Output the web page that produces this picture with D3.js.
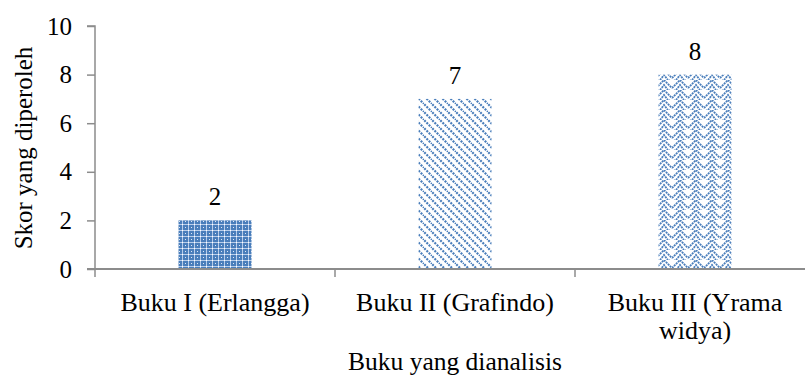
<!DOCTYPE html>
<html>
<head>
<meta charset="utf-8">
<script src="https://cdn.jsdelivr.net/npm/d3@7"></script>
<style>
  html, body { margin: 0; padding: 0; background: #fff; }
  svg { display: block; }
  text { font-family: "Liberation Serif", "Times New Roman", serif; fill: #000; }
</style>
</head>
<body>
<svg id="chart" width="805" height="383"></svg>
<script>
// Scores per analysed textbook
const categories = [["Buku I (Erlangga)"], ["Buku II (Grafindo)"], ["Buku III (Yrama", "widya)"]];
const scores = [2, 7, 8];
const yTicks = [0, 2, 4, 6, 8, 10];
const yTitle = "Skor yang diperoleh";
const xTitle = "Buku yang dianalisis";

const svg = d3.select("#chart");
const plotL = 95, plotR = 815, plotT = 26, plotB = 269;
const axisColor = "#8c8c8c";
const blue = "#4a7ebb";
const fs = 25;

const keys = categories.map((c, i) => i);
const x = d3.scaleBand().domain(keys).range([plotL, plotR]).paddingInner(0.696).paddingOuter(0.348);
const y = d3.scaleLinear().domain([0, 10]).range([plotB, plotT]);

// Hatch fills for the three bars
const defs = svg.append("defs");

const p1 = defs.append("pattern").attr("id", "pat0").attr("patternUnits", "userSpaceOnUse")
  .attr("width", 6).attr("height", 6);
p1.append("rect").attr("width", 6).attr("height", 6).attr("fill", blue);
p1.append("rect").attr("x", 0).attr("y", 2).attr("width", 6).attr("height", 1).attr("fill", "#b8cdea");
p1.append("rect").attr("x", 2).attr("y", 0).attr("width", 1).attr("height", 6).attr("fill", "#b8cdea");
p1.append("rect").attr("x", 2).attr("y", 2).attr("width", 1).attr("height", 1).attr("fill", "#fff");
p1.append("rect").attr("x", 5).attr("y", 5).attr("width", 1).attr("height", 1).attr("fill", "#dfe8f5");

const p2 = defs.append("pattern").attr("id", "pat1").attr("patternUnits", "userSpaceOnUse")
  .attr("width", 8).attr("height", 8);
p2.append("rect").attr("width", 8).attr("height", 8).attr("fill", "#fff");
p2.append("path").attr("d", "M-2,-2 L10,10 M-2,6 L2,10 M6,-2 L10,2")
  .attr("stroke", blue).attr("stroke-width", 2.2).attr("stroke-dasharray", "2,1.2");

const p3 = defs.append("pattern").attr("id", "pat2").attr("patternUnits", "userSpaceOnUse")
  .attr("width", 16).attr("height", 10);
p3.append("rect").attr("width", 16).attr("height", 10).attr("fill", "#fff");
p3.append("path").attr("d", "M0,8 L8,0 L16,8 M0,13 L3,10 M13,10 L16,13 M4,10 L8,5 L12,10")
  .attr("stroke", blue).attr("stroke-width", 1.8).attr("fill", "none").attr("stroke-dasharray", "2,0.8");

// Bars
svg.append("g").selectAll("rect").data(scores).join("rect")
  .attr("x", (d, i) => x(i))
  .attr("y", d => y(d))
  .attr("width", x.bandwidth())
  .attr("height", d => y(0) - y(d))
  .attr("fill", (d, i) => `url(#pat${i})`);

// Value labels
svg.append("g").selectAll("text").data(scores).join("text")
  .attr("x", (d, i) => x(i) + x.bandwidth() / 2)
  .attr("y", d => y(d) - 15)
  .attr("text-anchor", "middle")
  .attr("font-size", fs)
  .text(d => d);

// Y axis
const yAxis = svg.append("g").attr("transform", `translate(${plotL},0)`)
  .call(d3.axisLeft(y).tickValues(yTicks).tickSize(8).tickPadding(15).tickFormat(d3.format("d")));
yAxis.select(".domain").attr("stroke", axisColor).attr("stroke-width", 1.5).attr("d", `M-8,${plotT}H0V${plotB}`);
yAxis.selectAll(".tick line").attr("stroke", axisColor).attr("stroke-width", 1.5);
yAxis.selectAll(".tick text").attr("font-size", fs).attr("font-family", "Liberation Serif").attr("fill", "#000");

// X axis with ticks at category boundaries
const xAxis = svg.append("g").attr("transform", `translate(0,${plotB})`);
xAxis.append("line").attr("x1", plotL - 8).attr("x2", plotR).attr("y1", 0).attr("y2", 0)
  .attr("stroke", axisColor).attr("stroke-width", 2);
const bounds = keys.map(i => x(i) - x.step() * x.paddingInner() / 2).concat([plotR]);
xAxis.selectAll("line.tk").data(bounds).join("line").attr("class", "tk")
  .attr("x1", d => d).attr("x2", d => d).attr("y1", 0).attr("y2", 8)
  .attr("stroke", axisColor).attr("stroke-width", 1.5);

// Category labels
const catG = svg.append("g");
categories.forEach((lines, i) => {
  const cx = x(i) + x.bandwidth() / 2;
  const t = catG.append("text")
    .attr("x", cx)
    .attr("y", 311)
    .attr("text-anchor", "middle")
    .attr("font-size", 26);
  lines.forEach((ln, j) => {
    t.append("tspan").attr("x", cx).attr("dy", j === 0 ? 0 : 28).text(ln);
  });
});

// Axis titles
svg.append("text")
  .attr("transform", `translate(32,148) rotate(-90)`)
  .attr("text-anchor", "middle")
  .attr("font-size", fs)
  .text(yTitle);

svg.append("text")
  .attr("x", 455)
  .attr("y", 370)
  .attr("text-anchor", "middle")
  .attr("font-size", 25.5)
  .text(xTitle);
</script>
</body>
</html>
